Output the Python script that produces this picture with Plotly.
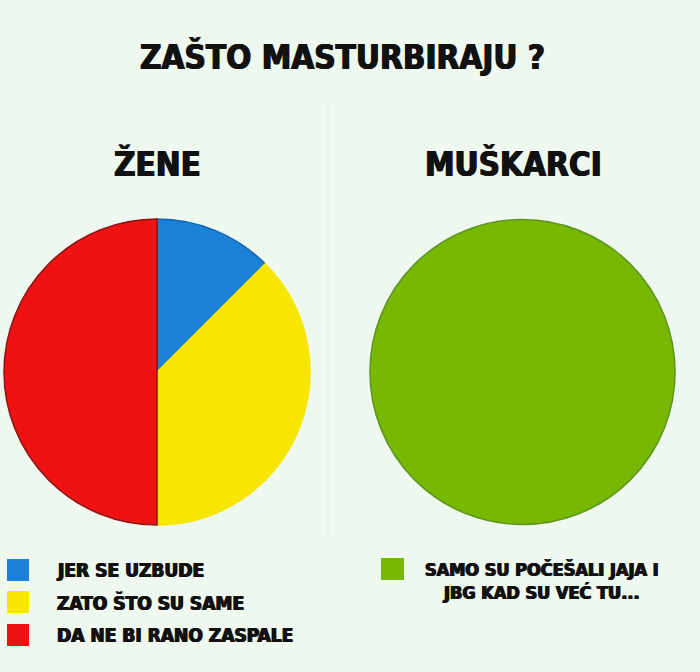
import plotly.graph_objects as go

# data
title_text = "ZAŠTO MASTURBIRAJU ?"
group_names = ["ŽENE", "MUŠKARCI"]

zene_labels = ["JER SE UZBUDE", "ZATO ŠTO SU SAME", "DA NE BI RANO ZASPALE"]
zene_values = [12.5, 37.5, 50]
zene_colors = ["#1a80d8", "#f7e600", "#ee1212"]
zene_edges = ["#1466b0", "#f7e600", "#8c1414"]

muskarci_labels = ["SAMO SU POČEŠALI JAJA I<br>JBG KAD SU VEĆ TU..."]
muskarci_values = [100]
muskarci_colors = ["#77b802"]
muskarci_edges = ["#5f9420"]

W, H = 700, 672
BG = "#eff8ef"
FONT = "DejaVu Sans Condensed"
HEAVY = "0.7px 0 0 #111111, -0.7px 0 0 #111111"


def px(x):
    return x / W


def py(y):
    # pixel from top -> paper from bottom
    return 1 - y / H


fig = go.Figure()

fig.add_trace(go.Pie(
    labels=zene_labels, values=zene_values, sort=False, direction="clockwise", rotation=0,
    marker=dict(colors=zene_colors, line=dict(color=zene_edges, width=1.5)),
    textinfo="none", hoverinfo="label+percent", showlegend=False,
    domain=dict(x=[px(4), px(310)], y=[py(525), py(219)]),
))
fig.add_trace(go.Pie(
    labels=muskarci_labels, values=muskarci_values, sort=False,
    marker=dict(colors=muskarci_colors, line=dict(color=muskarci_edges, width=1.5)),
    textinfo="none", hoverinfo="percent", showlegend=False,
    domain=dict(x=[px(370), px(675)], y=[py(525), py(219)]),
))

annotations = [
    dict(x=px(342), y=py(57), text=title_text, font=dict(size=33)),
    dict(x=px(157), y=py(164), text=group_names[0], font=dict(size=33)),
    dict(x=px(513), y=py(164), text=group_names[1], font=dict(size=33)),
]
shapes = [
    # faint divider between the two charts
    dict(type="line", xref="paper", yref="paper", x0=px(328), x1=px(328), y0=py(100), y1=py(540),
         line=dict(color="#e9f2e9", width=1.5)),
]

# hand-made legends
row_y = [570, 602, 635]
for lab, col, y in zip(zene_labels, zene_colors, row_y):
    shapes.append(dict(type="rect", xref="paper", yref="paper",
                       x0=px(7), x1=px(29), y0=py(y + 11), y1=py(y - 11),
                       fillcolor=col, line=dict(width=0)))
    annotations.append(dict(x=px(55), y=py(y), text=lab, xanchor="left", font=dict(size=19)))

for lab, col in zip(muskarci_labels, muskarci_colors):
    shapes.append(dict(type="rect", xref="paper", yref="paper",
                       x0=px(381), x1=px(404), y0=py(580), y1=py(558),
                       fillcolor=col, line=dict(width=0)))
    annotations.append(dict(x=px(542), y=py(581), text=lab, align="center",
                            font=dict(size=18)))

for a in annotations:
    a.setdefault("xref", "paper")
    a.setdefault("yref", "paper")
    a.setdefault("showarrow", False)
    a.setdefault("xanchor", "center")
    a.setdefault("yanchor", "middle")
    a["font"] = dict(family=FONT, color="#111111", weight="bold", shadow=HEAVY, **a["font"])

fig.update_layout(
    width=W, height=H,
    margin=dict(l=0, r=0, t=0, b=0),
    paper_bgcolor=BG, plot_bgcolor=BG,
    annotations=annotations,
    shapes=shapes,
)

# drop the page's default body margin so the figure sits at the window's corner
fig.write_html("out.html", config={"displayModeBar": False},
               post_script="document.body.style.margin='0';")
